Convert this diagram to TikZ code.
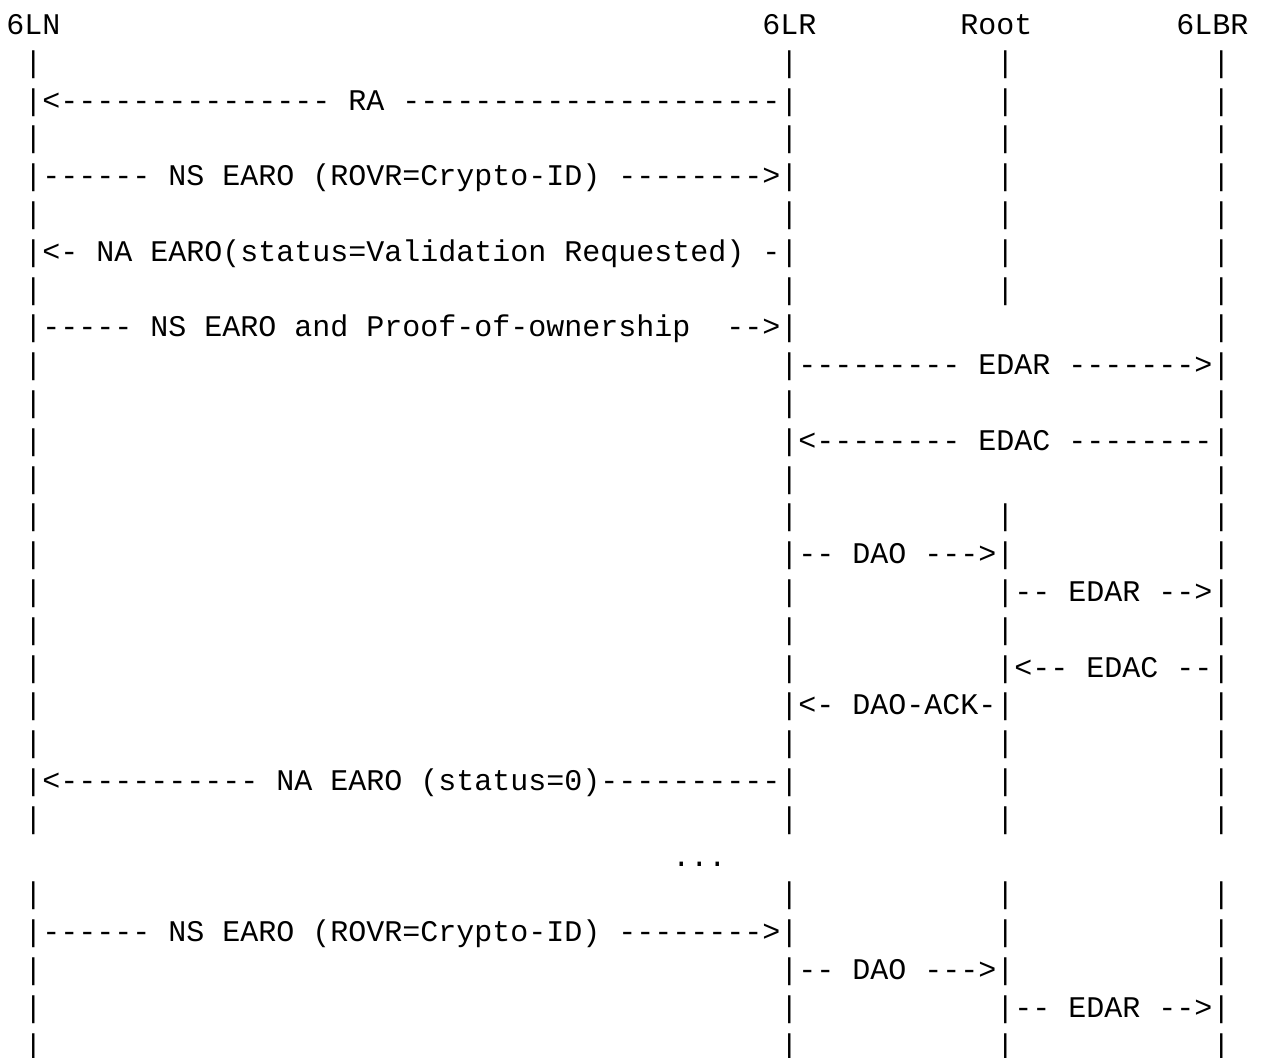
\documentclass[tikz,border=0pt]{standalone}
\usepackage{fontspec}
\setmonofont{Liberation Mono}
\begin{document}
\frenchspacing
\begin{tikzpicture}[x=1pt,y=-1pt,
  txt/.style={anchor=base west, inner sep=0pt, outer sep=0pt,
    font=\ttfamily\fontsize{30}{36}\selectfont, text=black}]
\useasboundingbox[fill=white] (0,0) rectangle (1268,1057);
\newcommand\seg[4]{\node[txt] (#1) at ({6.3+#3*18},{34.5+(#2-1)*37.8}) {#4};}
\newcommand\lf[2]{\node[txt] (p#1c#2) at ({6.3+#2*18},{34.5+(#1-1)*37.8}) {|};}
% header
\seg{h6ln}{1}{0}{6LN}
\seg{h6lr}{1}{42}{6LR}
\seg{hroot}{1}{53}{Root}
\seg{h6lbr}{1}{65}{6LBR}
% row 2
\lf{2}{1}\lf{2}{43}\lf{2}{55}\lf{2}{67}
% row 3
\seg{ra}{3}{1}{|<--------------- RA ---------------------|}
\lf{3}{55}\lf{3}{67}
% row 4
\lf{4}{1}\lf{4}{43}\lf{4}{55}\lf{4}{67}
% row 5
\seg{nsa}{5}{1}{|------ NS EARO (ROVR=Crypto-ID) -------->|}
\lf{5}{55}\lf{5}{67}
% row 6
\lf{6}{1}\lf{6}{43}\lf{6}{55}\lf{6}{67}
% row 7
\seg{navr}{7}{1}{|<- NA EARO(status=Validation Requested) -|}
\lf{7}{55}\lf{7}{67}
% row 8
\lf{8}{1}\lf{8}{43}\lf{8}{55}\lf{8}{67}
% row 9
\seg{nspo}{9}{1}{|----- NS EARO and Proof-of-ownership~~-->|}
\lf{9}{67}
% row 10
\lf{10}{1}
\seg{edara}{10}{43}{|--------- EDAR ------->|}
% row 11
\lf{11}{1}\lf{11}{43}\lf{11}{67}
% row 12
\lf{12}{1}
\seg{edaca}{12}{43}{|<-------- EDAC --------|}
% row 13
\lf{13}{1}\lf{13}{43}\lf{13}{67}
% row 14
\lf{14}{1}\lf{14}{43}\lf{14}{55}\lf{14}{67}
% row 15
\lf{15}{1}
\seg{daoa}{15}{43}{|-- DAO --->|}
\lf{15}{67}
% row 16
\lf{16}{1}\lf{16}{43}
\seg{edarb}{16}{55}{|-- EDAR -->|}
% row 17
\lf{17}{1}\lf{17}{43}\lf{17}{55}\lf{17}{67}
% row 18
\lf{18}{1}\lf{18}{43}
\seg{edacb}{18}{55}{|<-- EDAC --|}
% row 19
\lf{19}{1}
\seg{daoack}{19}{43}{|<- DAO-ACK-|}
\lf{19}{67}
% row 20
\lf{20}{1}\lf{20}{43}\lf{20}{55}\lf{20}{67}
% row 21
\seg{nazero}{21}{1}{|<----------- NA EARO (status=0)----------|}
\lf{21}{55}\lf{21}{67}
% row 22
\lf{22}{1}\lf{22}{43}\lf{22}{55}\lf{22}{67}
% row 23
\seg{dots}{23}{37}{...}
% row 24
\lf{24}{1}\lf{24}{43}\lf{24}{55}\lf{24}{67}
% row 25
\seg{nsb}{25}{1}{|------ NS EARO (ROVR=Crypto-ID) -------->|}
\lf{25}{55}\lf{25}{67}
% row 26
\lf{26}{1}
\seg{daob}{26}{43}{|-- DAO --->|}
\lf{26}{67}
% row 27
\lf{27}{1}\lf{27}{43}
\seg{edarc}{27}{55}{|-- EDAR -->|}
% row 28
\lf{28}{1}\lf{28}{43}\lf{28}{55}\lf{28}{67}
\end{tikzpicture}
\end{document}
